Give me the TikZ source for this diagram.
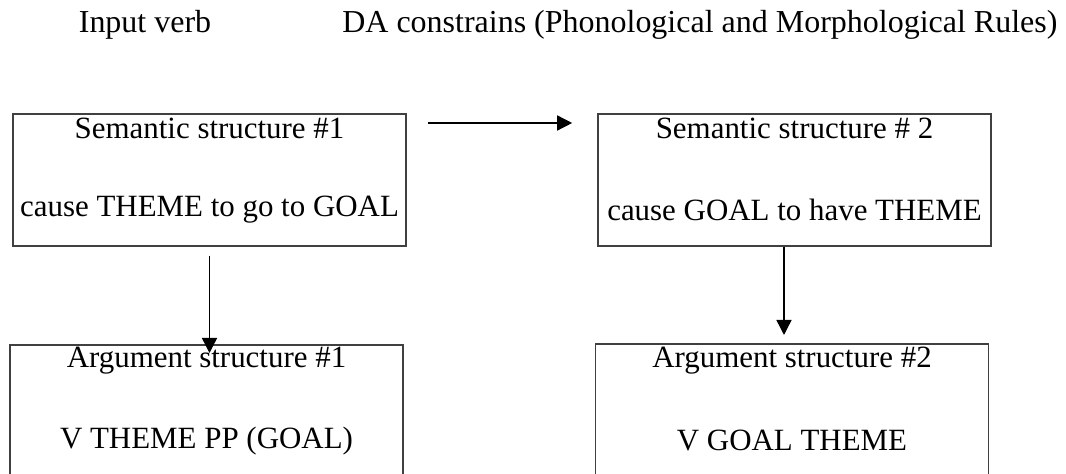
\documentclass[tikz,border=0pt]{standalone}
\usepackage{fontspec}
\setmainfont{Liberation Serif}
\usetikzlibrary{arrows.meta}

\begin{document}
\begin{tikzpicture}[font=\fontsize{17.6}{21}\selectfont,
            box/.style={draw=black!75,line width=.9pt,minimum width=7.86cm,
                minimum height=2.64cm,anchor=north,inner sep=0pt},
            txt/.style={inner sep=0pt},
            head/.style={inner sep=0pt,anchor=base west,font=\fontsize{18.2}{22}\selectfont}]
            \useasboundingbox (0,0) rectangle (21.32,-9.48);
            \path
            (1.57,-.66) node[head] (inp) {Input verb} % <<< tieu de
            (6.84,-.66) node[head] (da) {DA constrains (Phonological and Morphological Rules)};
            \path
            (4.19,-2.26) node[box] (sem1) {} % <<< hang 1
            (15.89,-2.26) node[box] (sem2) {}
            (4.13,-6.88) node[box] (arg1) {} % <<< hang 2
            (15.84,-6.86) node[box] (arg2) {};
            \path
            ([yshift=-.3cm]sem1.north) node[txt] (sem1a) {Semantic structure \#1}
            ([yshift=-1.94cm]sem1.north) node[txt] (sem1b) {cause THEME to go to GOAL}
            ([yshift=-.3cm]sem2.north) node[txt] (sem2a) {Semantic structure \# 2}
            ([yshift=-1.94cm]sem2.north) node[txt] (sem2b) {cause GOAL to have THEME}
            ([yshift=-.34cm]arg1.north) node[txt] (arg1a) {Argument structure \#1}
            ([yshift=-1.94cm]arg1.north) node[txt] (arg1b) {V THEME PP (GOAL)}
            ([yshift=-.36cm]arg2.north) node[txt] (arg2a) {Argument structure \#2}
            ([yshift=-1.94cm]arg2.north) node[txt] (arg2b) {V GOAL THEME};
            \begin{scope}[-{Triangle[length=.3cm,width=.3cm]},line width=.8pt]
                \draw ([shift={(.42,-.2)}]sem1.north east)--([shift={(-.5,-.2)}]sem2.north west);
                \draw ([yshift=-.18cm]sem1.south)--([yshift=-.18cm]sem1.south |- arg1.north);
                \draw[shorten >=.16cm] ([xshift=-.21cm]sem2.south)--([xshift=-.21cm]sem2.south |- arg2.north);
            \end{scope}
        \end{tikzpicture}
\end{document}
